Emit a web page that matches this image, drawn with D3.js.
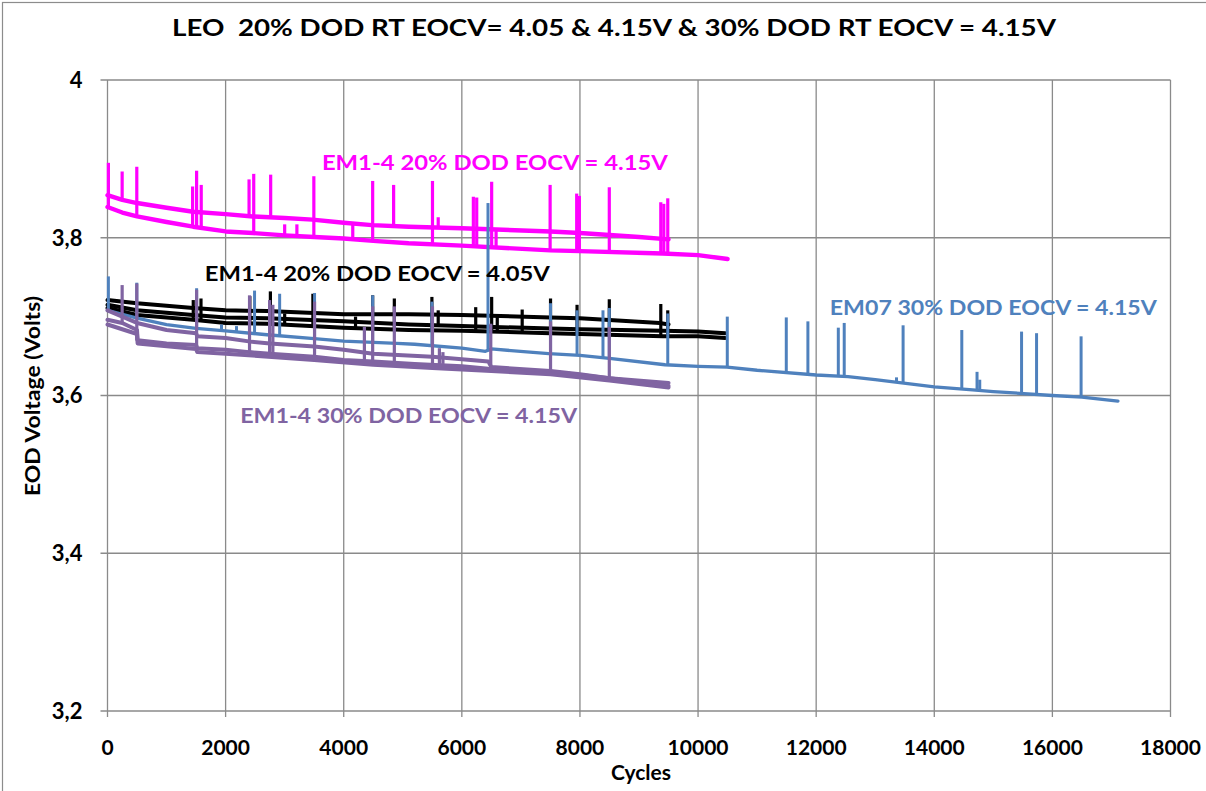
<!DOCTYPE html>
<html><head><meta charset="utf-8">
<script src="https://cdn.jsdelivr.net/npm/d3@7"></script>
<style>
body{margin:0;background:#fff}
svg{display:block}
text{font-family:Lato,"Open Sans",sans-serif;font-weight:700}
</style>
</head><body><svg id="c" width="1206" height="791"></svg>
<script>
// ---------- data ----------
const xTicks = [0,2000,4000,6000,8000,10000,12000,14000,16000,18000];
const yTicks = [3.2,3.4,3.6,3.8,4.0];
const yTickLabels = ["3,2","3,4","3,6","3,8","4"];

const titleText = "LEO  20% DOD RT EOCV= 4.05 & 4.15V & 30% DOD RT EOCV = 4.15V";
const xTitle = "Cycles";
const yTitle = "EOD Voltage (Volts)";

// EM1-4 20% DOD EOCV = 4.15V (magenta)
const mag1 = [[0,3.854],[250,3.848],[500,3.844],[1000,3.838],[1450,3.833],[2000,3.830],[2460,3.827],[3000,3.825],[3470,3.823],[4000,3.819],[4480,3.816],[5100,3.814],[6000,3.812],[7500,3.808],[8000,3.806],[9000,3.801],[9500,3.798]];
const mag2 = [[0,3.839],[250,3.832],[500,3.827],[1000,3.820],[1450,3.814],[2000,3.808],[2460,3.806],[3000,3.803],[3500,3.801],[4000,3.799],[4500,3.796],[5100,3.793],[6000,3.790],[7500,3.784],[8000,3.783],[9400,3.780],[10000,3.778],[10500,3.773]];
const magSpikes = [[15,3.839,3.895],[248,3.848,3.884],[496,3.827,3.890],[1441,3.814,3.865],[1509,3.814,3.885],[1587,3.812,3.867],[2397,3.827,3.874],[2476,3.806,3.881],[2763,3.826,3.880],[3000,3.803,3.817],[3207,3.802,3.817],[3494,3.801,3.878],[4153,3.799,3.817],[4490,3.796,3.872],[4845,3.815,3.867],[5503,3.793,3.872],[5600,3.813,3.826],[6195,3.790,3.852],[6252,3.790,3.851],[6505,3.789,3.871],[6580,3.788,3.812],[7495,3.784,3.867],[7945,3.783,3.856],[7990,3.783,3.853],[8497,3.782,3.864],[9369,3.780,3.845],[9420,3.780,3.843],[9487,3.780,3.850]];

// EM1-4 20% DOD EOCV = 4.05V (black)
const blk1 = [[0,3.721],[500,3.717],[1450,3.711],[2000,3.708],[2700,3.707],[4000,3.703],[5100,3.703],[6000,3.702],[7500,3.699],[8000,3.698],[9350,3.692],[9500,3.690]];
const blk2 = [[0,3.715],[500,3.708],[1450,3.702],[2000,3.699],[2700,3.698],[4000,3.694],[5100,3.690],[6000,3.688],[7500,3.685],[8000,3.684],[9400,3.682],[10000,3.681],[10460,3.679]];
const blk3 = [[0,3.711],[500,3.702],[1450,3.696],[2000,3.692],[2700,3.691],[4000,3.686],[5100,3.683],[6000,3.682],[7500,3.679],[8000,3.678],[9400,3.675],[10000,3.675],[10460,3.673]];
const blkSpikes = [[1452,3.696,3.721],[1583,3.696,3.723],[2410,3.692,3.726],[2758,3.691,3.732],[3000,3.690,3.704],[3478,3.688,3.729],[4200,3.685,3.700],[4490,3.684,3.727],[4857,3.684,3.723],[5493,3.683,3.725],[5600,3.690,3.708],[6235,3.682,3.712],[6505,3.681,3.725],[6600,3.681,3.700],[7022,3.680,3.709],[7502,3.679,3.723],[7951,3.678,3.715],[8497,3.677,3.722],[9369,3.675,3.716],[9487,3.675,3.708]];

// EM07 30% DOD EOCV = 4.15V (blue)
const blue = [[0,3.708],[250,3.703],[500,3.698],[1000,3.690],[1500,3.685],[2000,3.682],[2700,3.677],[3500,3.672],[4000,3.669],[4900,3.666],[5200,3.665],[6000,3.660],[6400,3.656],[6500,3.659],[7470,3.653],[8000,3.651],[8500,3.647],[9440,3.639],[10000,3.637],[10490,3.636],[11000,3.632],[12000,3.626],[12540,3.624],[13000,3.620],[14000,3.611],[14650,3.607],[15000,3.605],[16000,3.600],[16500,3.598],[17110,3.593]];
const blueSpikes = [[15,3.708,3.751],[496,3.698,3.743],[1509,3.685,3.736],[1930,3.682,3.690],[2184,3.680,3.688],[2490,3.679,3.733],[2915,3.676,3.729],[3506,3.672,3.730],[4490,3.667,3.727],[5493,3.664,3.719],[6443,3.656,3.844],[7502,3.653,3.717],[7951,3.651,3.708],[8390,3.648,3.708],[8497,3.647,3.711],[9487,3.639,3.704],[10495,3.636,3.700],[11494,3.630,3.699],[11860,3.627,3.694],[12375,3.624,3.686],[12475,3.624,3.692],[13360,3.617,3.623],[13472,3.616,3.689],[14466,3.608,3.683],[14724,3.606,3.630],[14770,3.606,3.620],[15478,3.603,3.681],[15732,3.602,3.679],[16486,3.598,3.675]];

// EM1-4 30% DOD EOCV = 4.15V (purple)
const pur1 = [[0,3.708],[250,3.700],[500,3.692],[1000,3.683],[1500,3.679],[1520,3.675],[2000,3.673],[2450,3.668],[2750,3.666],[3500,3.662],[4000,3.658],[4500,3.653],[5000,3.651],[5500,3.649],[6000,3.646],[6450,3.643],[6500,3.636],[7500,3.631],[8000,3.627],[8500,3.622],[9500,3.616]];
const pur2 = [[0,3.696],[250,3.692],[500,3.683],[510,3.670],[1000,3.666],[1500,3.664],[1520,3.660],[2000,3.658],[2400,3.655],[2750,3.653],[3500,3.649],[4000,3.645],[4500,3.643],[5200,3.640],[6000,3.637],[6450,3.634],[7500,3.630],[8000,3.626],[8500,3.622],[9500,3.612]];
const pur3 = [[0,3.690],[500,3.678],[510,3.666],[1500,3.659],[1520,3.655],[2000,3.653],[3500,3.645],[4500,3.639],[5500,3.635],[6500,3.631],[7500,3.627],[8500,3.619],[9500,3.610]];
const purSpikes = [[248,3.692,3.740],[496,3.670,3.742],[1509,3.660,3.734],[2405,3.655,3.727],[2745,3.653,3.721],[2800,3.653,3.715],[3506,3.649,3.719],[4350,3.643,3.687],[4490,3.643,3.713],[4857,3.642,3.713],[5503,3.640,3.713],[5620,3.640,3.660],[5680,3.640,3.655],[6490,3.632,3.691],[7502,3.630,3.694],[8497,3.622,3.687]];

const labels = [
  {text:"EM1-4 20% DOD EOCV = 4.15V", color:"#FF00FF", cx:6560, cy:3.895, w:346},
  {text:"EM1-4 20% DOD EOCV = 4.05V", color:"#000000", cx:4570, cy:3.755, w:345},
  {text:"EM07 30% DOD EOCV = 4.15V",  color:"#4F81BD", cx:15000, cy:3.712, w:327},
  {text:"EM1-4 30% DOD EOCV = 4.15V", color:"#8064A2", cx:5100, cy:3.575, w:337}
];

// ---------- drawing ----------
const svg = d3.select("#c");
const x = d3.scaleLinear().domain([0,18000]).range([107.5,1170.5]);
const y = d3.scaleLinear().domain([3.2,4.0]).range([711,80]);
const grid = "#8a8a8a";

// chart border
svg.append("rect").attr("x",2.5).attr("y",2.5).attr("width",1240).attr("height",820)
  .attr("fill","none").attr("stroke","#8c8c8c").attr("stroke-width",1.2);

// grid
svg.append("g").selectAll("line").data(xTicks).join("line")
  .attr("x1",d=>x(d)).attr("x2",d=>x(d)).attr("y1",y(4)).attr("y2",y(3.2)+6)
  .attr("stroke",grid).attr("stroke-width",1.3);
svg.append("g").selectAll("line").data(yTicks).join("line")
  .attr("x1",x(0)-7).attr("x2",x(18000)).attr("y1",d=>y(d)).attr("y2",d=>y(d))
  .attr("stroke",grid).attr("stroke-width",1.3);

// tick labels
svg.append("g").selectAll("text").data(yTicks).join("text")
  .attr("x",x(0)-25).attr("y",d=>y(d)).attr("dy","0.36em").attr("text-anchor","end")
  .attr("font-size",22).attr("fill","#000").text((d,i)=>yTickLabels[i]);
svg.append("g").selectAll("text").data(xTicks).join("text")
  .attr("x",d=>x(d)).attr("y",y(3.2)+44).attr("text-anchor","middle")
  .attr("font-size",21).attr("fill","#000").text(d=>String(d));

// titles
svg.append("text").attr("x",614).attr("y",36).attr("text-anchor","middle")
  .attr("font-size",22).attr("fill","#000").style("white-space","pre")
  .attr("textLength",884).attr("lengthAdjust","spacingAndGlyphs").text(titleText);
svg.append("text").attr("x",641).attr("y",780).attr("text-anchor","middle")
  .attr("font-size",21).attr("fill","#000").text(xTitle);
svg.append("text").attr("transform","translate(40,396) rotate(-90)").attr("text-anchor","middle")
  .attr("font-size",20).attr("fill","#000")
  .attr("textLength",200).attr("lengthAdjust","spacingAndGlyphs").text(yTitle);

// series
const line = d3.line().x(d=>x(d[0])).y(d=>y(d[1]));
function series(arrs, spikes, color, lw, sw){
  const g = svg.append("g");
  arrs.forEach(a=>{
    g.append("path").attr("d",line(a)).attr("fill","none").attr("stroke",color)
      .attr("stroke-width",lw).attr("stroke-linejoin","round").attr("stroke-linecap","round");
  });
  g.selectAll("line.sp").data(spikes).join("line").attr("class","sp")
    .attr("x1",d=>x(d[0])).attr("x2",d=>x(d[0]))
    .attr("y1",d=>y(d[1])).attr("y2",d=>y(d[2]))
    .attr("stroke",color).attr("stroke-width",sw).attr("stroke-linecap","butt");
}
series([mag1,mag2], magSpikes, "#FF00FF", 4.4, 3.2);
series([blk1,blk2,blk3], blkSpikes, "#000000", 4, 3.2);
series([blue], blueSpikes, "#4F81BD", 3.3, 3);
series([pur1,pur2,pur3], purSpikes, "#8064A2", 4, 3.2);

// annotations
svg.append("g").selectAll("text").data(labels).join("text")
  .attr("x",d=>x(d.cx)).attr("y",d=>y(d.cy)).attr("dy","0.35em").attr("text-anchor","middle")
  .attr("font-size",21).attr("fill",d=>d.color)
  .attr("textLength",d=>d.w).attr("lengthAdjust","spacingAndGlyphs")
  .text(d=>d.text);
</script>
</body></html>
